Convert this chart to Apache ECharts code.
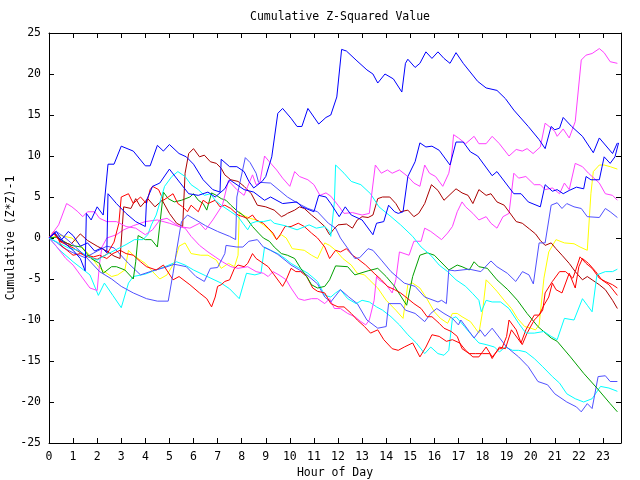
<!DOCTYPE html>
<html><head><meta charset="utf-8">
<script src="https://cdn.jsdelivr.net/npm/echarts/dist/echarts.min.js"></script>
<style>html,body{margin:0;padding:0;background:#fff}#c{width:640px;height:480px}</style>
</head><body><div id="c"></div>
<script>
const titleText = 'Cumulative Z-Squared Value';
const xName = 'Hour of Day';
const yName = 'Cumulative (Z*Z)-1';
const hourMin = 0, hourMax = 23.75, hourStep = 1;
const valMin = -25, valMax = 25, valStep = 5;

const blueA = [[0,0],[0.3,0.8],[0.6,-0.5],[1.0,-1.5],[1.3,-2.5],[1.5,-4.0],[1.55,3.0],[1.75,2.2],[2.0,3.8],[2.25,2.8],[2.45,9.0],[2.7,9.0],[3.0,11.2],[3.5,10.6],[4.0,8.8],[4.2,8.8],[4.5,11.3],[4.75,10.6],[5.0,11.4],[5.4,10.3],[5.7,9.9],[6.0,9.0],[6.4,7.1],[6.8,5.9],[7.1,5.6],[7.15,9.6],[7.5,8.7],[7.8,8.7],[8.1,8.1],[8.3,6.9],[8.5,6.1],[8.85,6.9],[9.0,7.5],[9.25,9.9],[9.5,15.2],[9.7,15.8],[10.05,14.6],[10.3,13.6],[10.5,13.6],[10.75,15.8],[11.2,13.9],[11.5,14.7],[11.7,15.0],[11.95,17.2],[12.15,23.0],[12.35,22.8],[12.75,21.7],[13.2,20.5],[13.45,20.0],[13.65,18.9],[13.95,20.0],[14.3,19.4],[14.65,17.8],[14.8,21.3],[14.9,21.8],[15.2,20.8],[15.4,21.3],[15.65,22.7],[15.9,21.9],[16.15,22.7],[16.4,21.9],[16.65,21.3],[16.9,22.6],[17.2,21.3],[17.8,19.1],[18.15,18.3],[18.6,18.0],[18.95,17.0],[19.3,15.6],[19.9,13.6],[20.35,12.0],[20.6,10.9],[20.85,13.6],[21.0,13.2],[21.2,13.4],[21.35,14.7],[21.7,13.6],[22.15,12.4],[22.6,10.4],[22.85,12.2],[23.4,10.3],[23.6,11.6]];
const blueB = [[0,0],[0.25,0.6],[0.5,-0.3],[0.8,0.8],[1.0,0.3],[1.3,-1.0],[1.6,-0.6],[1.9,-1.6],[2.2,-1.2],[2.4,-1.8],[2.45,5.4],[2.8,4.2],[3.2,3.0],[3.6,2.0],[4.0,1.4],[4.05,4.6],[4.3,6.3],[4.6,6.7],[5.0,8.4],[5.45,6.7],[5.8,5.4],[6.2,5.2],[6.6,5.6],[6.9,5.0],[7.3,6.0],[7.5,7.1],[8.1,5.9],[8.5,5.6],[8.95,4.6],[9.2,5.0],[9.7,4.2],[10.3,4.4],[10.5,3.8],[11.0,3.2],[11.2,5.2],[11.5,5.0],[11.7,4.2],[12.05,2.6],[12.3,3.8],[12.55,2.8],[13.0,2.2],[13.45,0.4],[13.6,1.8],[13.9,2.0],[14.1,4.0],[14.35,3.2],[14.5,3.0],[14.7,3.2],[14.9,7.5],[15.2,9.3],[15.4,11.6],[15.65,11.1],[15.9,11.2],[16.2,10.7],[16.65,8.9],[16.9,11.7],[17.2,11.7],[17.5,10.5],[17.8,10.0],[18.4,7.6],[18.6,8.1],[19.3,5.4],[19.6,5.4],[19.9,4.4],[20.4,3.8],[20.6,6.5],[20.9,5.7],[21.1,5.9],[21.35,5.4],[21.6,5.8],[21.9,6.2],[22.2,6.0],[22.3,7.5],[22.5,7.1],[22.85,7.1],[23.05,9.9],[23.3,9.1],[23.5,9.9],[23.65,11.6]];
const slateA = [[0,0],[0.3,0.8],[0.6,0.2],[1.0,-0.8],[1.5,-2.2],[2.1,-4.1],[2.6,-5.0],[3.0,-5.9],[3.5,-6.7],[4.05,-7.4],[4.5,-7.7],[4.95,-7.7],[5.15,-4.3],[5.3,-1.5],[5.5,2.0],[5.75,2.8],[6.1,2.2],[6.5,1.5],[7.0,0.8],[7.5,0.2],[7.75,-0.2],[7.8,5.0],[8.15,9.8],[8.35,9.2],[8.6,7.9],[8.7,6.8],[9.2,6.7],[9.9,5.0],[10.35,4.2],[10.75,3.6],[11.15,3.2],[11.6,1.8],[11.9,1.2],[12.1,0.0],[12.7,-2.5],[12.9,-2.4],[13.25,-1.3],[13.45,-1.5],[13.8,-2.7],[14.2,-4.1],[14.75,-5.5],[15.2,-5.9],[15.6,-7.2],[16.15,-7.8],[16.3,-7.6],[16.5,-8.0],[16.6,-3.9],[16.85,-4.0],[17.45,-3.8],[17.93,-4.1],[18.35,-2.8],[18.6,-3.5],[19.03,-4.3],[19.38,-5.3],[19.66,-4.1],[19.93,-4.5],[20.11,-5.6],[20.35,-0.6],[20.6,-0.6],[20.85,4.0],[21.1,4.3],[21.3,3.6],[21.5,4.2],[21.8,3.8],[22.1,3.6],[22.35,2.6],[22.85,2.5],[23.1,3.6],[23.3,3.2],[23.6,2.5]];
const slateB = [[0,0],[0.3,-0.5],[0.6,-1.2],[1.0,-1.8],[1.5,-2.4],[2.0,-1.6],[2.4,-1.0],[2.7,-1.2],[3.3,-3.1],[3.8,-4.5],[4.3,-4.0],[4.8,-3.6],[5.2,-3.2],[5.7,-3.5],[6.1,-4.7],[6.45,-5.3],[6.7,-3.7],[7.0,-3.6],[7.3,-1.9],[7.35,-0.9],[7.8,-1.1],[8.05,-1.1],[8.3,-0.4],[8.65,-0.2],[8.9,-1.1],[9.2,-1.5],[9.5,-2.0],[9.8,-2.7],[10.05,-3.3],[10.4,-3.9],[10.75,-4.6],[11.15,-5.6],[11.45,-7.2],[11.7,-7.8],[12.1,-6.3],[12.45,-7.2],[12.8,-8.0],[13.2,-10.0],[13.65,-11.0],[14.0,-10.8],[14.1,-8.0],[14.6,-8.0],[14.8,-8.8],[15.2,-9.2],[15.6,-10.2],[15.85,-9.2],[16.1,-8.6],[16.4,-9.2],[16.75,-9.8],[17.0,-10.6],[17.1,-10.0],[17.45,-11.4],[17.65,-12.2],[17.9,-11.2],[18.1,-12.0],[18.4,-11.0],[19.0,-13.3],[19.5,-14.5],[19.9,-15.7],[20.3,-17.5],[20.7,-17.9],[21.0,-19.0],[21.5,-20.0],[21.9,-20.6],[22.1,-21.2],[22.35,-20.2],[22.55,-20.8],[22.8,-16.9],[23.1,-16.8],[23.3,-17.5],[23.6,-17.5]];
const magentaA = [[0,0],[0.4,1.6],[0.73,4.2],[0.95,3.8],[1.2,3.2],[1.4,2.6],[1.6,3.2],[1.9,3.2],[2.1,2.4],[2.4,2.0],[2.8,2.0],[3.2,1.4],[3.6,1.2],[4.0,0.4],[4.3,1.0],[4.6,2.2],[4.9,2.4],[5.4,1.4],[5.85,1.2],[6.25,1.8],[6.5,1.0],[6.8,2.2],[7.2,4.0],[7.45,7.0],[7.8,5.9],[8.1,5.2],[8.25,6.3],[8.45,7.7],[8.6,6.5],[8.75,6.7],[8.95,10.0],[9.15,9.3],[9.45,8.3],[9.7,7.3],[10.0,6.3],[10.2,8.1],[10.4,7.5],[10.75,7.1],[11.0,6.5],[11.25,5.2],[11.5,5.5],[11.7,5.1],[12.0,4.0],[12.25,3.0],[12.6,3.1],[13.0,2.8],[13.3,3.0],[13.55,8.9],[13.8,7.9],[14.05,8.3],[14.25,7.9],[14.55,8.3],[14.9,7.5],[15.15,6.7],[15.4,6.3],[15.6,8.9],[15.8,7.9],[16.05,7.5],[16.35,6.3],[16.6,7.9],[16.7,9.5],[16.8,12.6],[17.0,12.2],[17.3,11.5],[17.65,12.4],[17.85,11.5],[18.15,11.5],[18.4,12.4],[18.7,11.5],[19.1,10.0],[19.4,10.8],[19.65,10.6],[19.85,10.9],[20.1,10.3],[20.4,11.1],[20.6,14.0],[20.85,13.4],[21.0,13.0],[21.1,12.4],[21.35,13.3],[21.6,12.2],[21.85,14.2],[22.1,21.7],[22.3,22.3],[22.55,22.5],[22.85,23.1],[23.05,22.6],[23.3,21.5],[23.6,21.3]];
const magentaB = [[0,0],[0.3,-1.0],[0.7,-2.5],[1.0,-3.3],[1.3,-4.5],[1.7,-6.1],[2.0,-6.4],[2.1,-3.1],[2.2,-1.1],[2.4,0.0],[2.8,0.4],[3.1,1.0],[3.5,1.5],[4.0,2.0],[4.5,2.2],[5.0,1.8],[5.4,1.4],[5.65,1.2],[5.9,0.2],[6.25,-0.9],[6.6,-1.7],[6.9,-2.3],[7.2,-2.9],[7.55,-3.5],[7.85,-3.7],[8.25,-3.5],[8.6,-4.1],[8.9,-4.3],[9.1,-4.7],[9.3,-4.1],[9.55,-4.5],[9.85,-5.1],[10.05,-6.1],[10.35,-7.4],[10.6,-7.6],[10.9,-7.4],[11.15,-7.4],[11.45,-8.0],[11.65,-7.4],[11.85,-8.6],[12.1,-8.6],[12.4,-9.2],[12.7,-9.6],[12.95,-10.2],[13.15,-10.6],[13.3,-10.0],[13.5,-7.6],[13.6,-4.7],[13.7,-5.1],[14.0,-5.7],[14.25,-6.7],[14.4,-5.1],[14.55,-1.7],[14.95,-2.1],[15.15,-0.4],[15.45,-0.4],[15.6,1.2],[15.85,0.8],[16.3,-0.2],[16.55,0.6],[16.75,1.4],[16.95,3.2],[17.15,4.4],[17.3,3.8],[17.6,3.0],[17.85,2.2],[18.15,2.6],[18.35,1.8],[18.6,1.2],[18.85,2.6],[19.1,3.0],[19.3,7.9],[19.5,7.3],[19.8,7.5],[20.15,6.5],[20.4,6.5],[20.6,5.9],[20.9,6.1],[21.2,5.4],[21.4,6.7],[21.6,5.9],[21.85,9.1],[22.15,8.7],[22.4,7.9],[22.85,6.7],[23.1,5.4],[23.4,5.2],[23.6,4.6]];
const cyanA = [[0,0],[0.45,-1.5],[1.0,-2.9],[1.7,-4.5],[2.05,-7.0],[2.3,-5.5],[2.65,-7.0],[3.0,-8.5],[3.3,-5.5],[3.5,-4.7],[4.0,-4.4],[4.45,-3.9],[4.9,-3.4],[5.3,-2.9],[5.65,-3.3],[6.0,-3.9],[6.5,-4.6],[7.15,-5.5],[7.5,-6.2],[7.9,-7.4],[8.2,-4.3],[8.55,-4.5],[8.8,-4.3],[8.95,-1.1],[9.2,-1.5],[9.5,-1.9],[9.8,-2.5],[10.05,-3.1],[10.4,-3.7],[10.75,-4.3],[11.15,-5.3],[11.45,-7.0],[11.7,-7.2],[11.9,-6.7],[12.1,-6.3],[12.4,-7.4],[12.75,-8.0],[13.0,-7.6],[13.3,-7.8],[13.6,-8.4],[13.85,-8.8],[14.2,-9.6],[14.55,-10.6],[14.9,-11.8],[15.25,-12.8],[15.6,-14.1],[15.85,-13.3],[16.15,-14.1],[16.4,-14.3],[16.6,-13.7],[16.75,-9.8],[16.9,-9.6],[17.25,-10.8],[17.6,-12.0],[17.85,-12.8],[18.15,-13.0],[18.5,-13.3],[18.7,-13.9],[18.95,-13.3],[19.25,-13.7],[19.5,-13.7],[19.8,-13.9],[20.15,-14.7],[20.5,-15.7],[20.9,-16.9],[21.2,-17.7],[21.5,-19.0],[21.85,-19.6],[22.2,-20.0],[22.55,-19.6],[22.9,-18.1],[23.25,-18.3],[23.6,-18.7]];
const cyanB = [[0,0],[0.4,-0.6],[0.8,-1.2],[1.2,-1.5],[1.6,-2.2],[2.0,-2.7],[2.4,-2.0],[2.8,-1.4],[3.2,-0.8],[3.55,-0.2],[3.9,-0.2],[4.1,0.4],[4.25,1.6],[4.45,2.8],[4.8,6.3],[5.1,7.5],[5.35,8.1],[5.65,7.5],[5.9,6.5],[6.2,5.9],[6.45,5.2],[6.7,5.4],[6.9,4.6],[7.15,4.0],[7.35,3.6],[7.55,3.2],[7.85,2.6],[8.05,1.8],[8.25,1.0],[8.4,1.8],[8.6,2.0],[8.9,2.0],[9.2,2.2],[9.35,1.8],[9.8,1.5],[10.3,1.0],[10.8,1.6],[11.1,1.2],[11.45,1.4],[11.65,0.8],[11.7,0.2],[11.85,4.4],[11.9,8.9],[12.25,7.9],[12.55,6.9],[12.95,6.5],[13.35,5.4],[13.7,3.8],[14.2,2.6],[14.6,1.6],[15.1,0.2],[15.45,-1.1],[15.85,-2.1],[16.2,-3.3],[16.55,-4.1],[16.9,-5.1],[17.3,-5.9],[17.6,-6.8],[17.85,-7.6],[17.95,-9.0],[18.15,-7.6],[18.4,-7.8],[18.75,-7.8],[19.1,-8.6],[19.5,-10.4],[19.8,-11.6],[20.15,-11.6],[20.55,-11.4],[20.85,-12.0],[21.1,-12.4],[21.4,-9.8],[21.8,-10.0],[22.15,-7.4],[22.35,-8.2],[22.55,-9.0],[22.75,-4.5],[23.1,-4.1],[23.4,-4.1],[23.6,-3.8]];
const yellowA = [[0,0],[0.5,0.3],[0.95,0.0],[1.2,-0.6],[1.5,-1.5],[1.75,-2.3],[2.05,-3.5],[2.3,-4.1],[2.6,-4.7],[2.85,-4.5],[3.15,-3.9],[3.3,-1.5],[3.5,-2.1],[3.7,-2.5],[4.0,-3.1],[4.3,-4.1],[4.6,-5.0],[4.9,-4.5],[5.2,-3.0],[5.4,-1.0],[5.65,-0.6],[5.9,-1.9],[6.3,-2.1],[6.6,-2.1],[6.95,-2.7],[7.15,-3.7],[7.45,-3.1],[7.7,-3.5],[7.85,-2.1],[7.9,3.2],[8.05,2.8],[8.35,2.4],[8.6,2.2],[8.9,1.6],[9.15,1.0],[9.45,-0.2],[9.65,0.4],[9.85,0.0],[10.1,-1.3],[10.6,-1.5],[10.9,-2.1],[11.15,-2.5],[11.45,-0.6],[11.65,-0.9],[11.9,-1.5],[12.2,-2.5],[12.55,-3.3],[12.8,-4.3],[13.1,-4.5],[13.3,-5.1],[13.65,-6.1],[14.0,-7.6],[14.4,-8.8],[14.7,-9.8],[14.9,-5.7],[15.1,-5.5],[15.4,-6.1],[15.65,-7.2],[16.0,-9.0],[16.25,-9.8],[16.55,-10.4],[16.75,-9.2],[16.95,-9.2],[17.15,-9.6],[17.5,-10.2],[17.85,-11.6],[18.0,-9.0],[18.15,-5.1],[18.35,-5.7],[18.6,-6.5],[18.9,-7.6],[19.2,-8.6],[19.45,-9.8],[19.75,-10.8],[20.0,-11.0],[20.2,-11.2],[20.35,-10.6],[20.55,-4.9],[20.75,-1.7],[21.05,-0.2],[21.4,-0.6],[21.8,-0.7],[22.05,-1.1],[22.35,-1.5],[22.5,5.4],[22.6,8.1],[22.85,8.9],[23.05,8.9],[23.3,8.7],[23.6,8.4]];
const greenA = [[0,0],[0.3,0.1],[0.5,-0.2],[0.9,-0.9],[1.35,-1.1],[1.75,-2.5],[2.1,-3.1],[2.25,-4.3],[2.6,-3.5],[2.8,-3.5],[3.15,-3.9],[3.5,-5.0],[3.6,-2.9],[3.7,0.3],[4.0,-0.2],[4.25,-0.2],[4.5,-1.1],[4.75,5.6],[4.95,4.8],[5.2,4.4],[5.5,4.6],[5.85,5.0],[6.0,5.4],[6.2,4.6],[6.4,4.2],[6.55,3.4],[6.75,5.5],[6.95,5.2],[7.15,4.8],[7.35,4.6],[7.55,4.0],[7.85,3.2],[8.05,2.8],[8.25,2.2],[8.45,1.4],[8.7,0.6],[8.9,0.0],[9.15,-0.4],[9.35,-1.1],[9.65,-1.9],[9.9,-2.1],[10.2,-2.5],[10.45,-3.7],[10.7,-4.7],[10.9,-5.7],[11.15,-6.1],[11.45,-5.9],[11.65,-5.1],[11.9,-3.4],[12.4,-3.5],[12.7,-4.5],[13.25,-4.0],[13.65,-3.7],[14.0,-4.7],[14.35,-5.9],[14.85,-8.2],[15.1,-4.7],[15.4,-2.1],[15.7,-1.8],[16.0,-2.1],[16.4,-3.3],[16.6,-3.9],[16.95,-3.3],[17.15,-3.5],[17.45,-3.9],[17.65,-2.9],[17.85,-3.5],[18.2,-3.7],[18.6,-5.1],[19.05,-6.3],[19.45,-7.6],[19.85,-9.2],[20.3,-10.8],[20.85,-12.2],[21.1,-12.6],[21.65,-14.5],[22.2,-16.5],[22.75,-18.3],[23.3,-20.2],[23.6,-21.2]];
const redA = [[0,0],[0.2,0.5],[0.5,-0.5],[1.0,-1.2],[1.5,-2.2],[2.0,-2.6],[2.4,-2.0],[2.7,-0.5],[2.9,1.8],[3.0,5.0],[3.3,5.4],[3.5,4.2],[3.65,4.6],[3.8,5.0],[4.05,4.2],[4.2,5.9],[4.3,6.3],[4.55,5.9],[4.75,4.6],[4.95,5.0],[5.15,5.4],[5.35,4.2],[5.55,3.8],[5.75,3.2],[5.9,4.0],[6.2,3.2],[6.4,4.6],[6.6,4.2],[6.9,4.6],[7.1,3.8],[7.3,4.0],[7.55,3.6],[7.85,2.8],[8.05,2.6],[8.25,2.4],[8.45,2.8],[8.6,2.2],[8.9,1.8],[9.1,1.2],[9.3,0.6],[9.45,-0.2],[9.6,0.4],[9.8,1.4],[10.05,1.4],[10.35,1.8],[10.6,1.4],[10.9,0.6],[11.15,0.0],[11.45,-1.1],[11.65,-2.5],[11.9,-1.5],[12.1,-1.7],[12.35,-1.3],[12.6,-2.1],[12.8,-2.5],[13.15,-3.3],[13.5,-4.3],[13.8,-5.1],[14.05,-5.9],[14.35,-6.3],[14.6,-6.7],[14.9,-7.4],[15.15,-8.0],[15.45,-8.6],[15.7,-9.6],[15.9,-9.6],[16.2,-10.4],[16.4,-11.0],[16.7,-11.4],[16.95,-12.0],[17.15,-13.5],[17.45,-14.1],[17.7,-14.1],[18.0,-14.1],[18.3,-14.1],[18.4,-14.7],[18.7,-13.3],[18.95,-13.5],[19.2,-11.2],[19.45,-12.2],[19.65,-13.0],[19.85,-11.6],[20.15,-10.0],[20.35,-9.4],[20.55,-8.2],[20.75,-7.2],[20.9,-5.5],[21.05,-6.3],[21.3,-6.7],[21.6,-4.3],[21.85,-6.1],[22.0,-3.5],[22.15,-2.5],[22.4,-3.1],[22.7,-4.1],[22.95,-5.1],[23.25,-5.7],[23.6,-7.0]];
const redB = [[0,0],[0.2,0.8],[0.4,-0.2],[0.5,-0.9],[0.75,-1.5],[1.0,-2.1],[1.3,-1.9],[1.55,-2.1],[1.85,-2.3],[2.1,-2.1],[2.4,-2.5],[2.65,-1.9],[2.95,-1.5],[3.2,-1.9],[3.5,-2.1],[3.8,-2.9],[4.05,-3.5],[4.45,-3.9],[4.75,-3.3],[5.15,-5.1],[5.4,-4.7],[5.85,-5.7],[6.25,-6.7],[6.55,-7.4],[6.75,-8.4],[6.9,-7.2],[7.0,-5.9],[7.15,-5.7],[7.3,-5.3],[7.5,-5.1],[7.7,-3.7],[7.85,-3.3],[8.1,-3.5],[8.25,-3.1],[8.45,-1.9],[8.6,-2.5],[8.8,-2.9],[9.1,-3.5],[9.35,-4.5],[9.7,-5.9],[9.85,-5.1],[10.05,-3.7],[10.25,-4.1],[10.45,-4.1],[10.7,-4.7],[10.95,-6.1],[11.15,-6.5],[11.45,-6.7],[11.7,-8.0],[12.0,-8.4],[12.25,-8.4],[12.55,-9.2],[12.8,-10.0],[13.1,-10.8],[13.35,-11.6],[13.65,-11.2],[13.9,-12.4],[14.25,-13.5],[14.5,-13.7],[14.75,-13.3],[15.1,-12.8],[15.4,-14.5],[15.65,-13.3],[15.9,-11.8],[16.2,-12.0],[16.5,-12.6],[16.75,-12.4],[17.05,-12.8],[17.3,-13.7],[17.6,-14.5],[17.85,-14.5],[18.15,-13.3],[18.4,-14.5],[18.7,-13.5],[18.8,-13.5],[19.0,-12.0],[19.1,-10.0],[19.4,-11.2],[19.6,-12.8],[19.8,-11.2],[19.95,-10.4],[20.15,-9.4],[20.35,-9.4],[20.5,-8.8],[20.6,-6.7],[20.9,-5.3],[21.2,-4.1],[21.45,-4.1],[21.75,-4.9],[21.85,-4.1],[22.05,-2.3],[22.3,-3.1],[22.55,-3.7],[22.85,-4.9],[23.1,-5.3],[23.4,-5.7],[23.6,-6.1]];
const maroonA = [[0,0],[0.2,0.6],[0.5,-0.4],[0.9,-0.8],[1.3,0.5],[1.6,-0.3],[2.0,-1.0],[2.4,-1.6],[2.7,-2.2],[2.95,-2.5],[3.1,3.8],[3.4,3.6],[3.6,4.8],[3.8,3.8],[4.1,4.8],[4.4,3.8],[4.7,4.6],[5.0,3.0],[5.3,1.8],[5.55,1.4],[5.65,7.9],[5.8,10.3],[6.0,10.9],[6.25,9.9],[6.45,10.1],[6.7,9.3],[6.95,9.1],[7.15,8.5],[7.3,7.7],[7.55,7.1],[7.85,6.9],[8.1,6.3],[8.4,5.4],[8.65,4.0],[9.0,3.8],[9.35,3.4],[9.65,2.6],[9.8,2.8],[9.9,3.0],[10.2,3.4],[10.4,3.8],[10.6,3.6],[10.9,2.8],[11.15,2.2],[11.45,1.4],[11.65,0.4],[11.8,1.0],[12.0,1.6],[12.35,1.7],[12.6,1.2],[12.8,2.2],[13.0,2.6],[13.25,2.5],[13.45,2.8],[13.65,4.8],[13.85,5.0],[14.15,5.0],[14.4,4.2],[14.6,3.2],[14.9,3.4],[15.15,2.6],[15.35,3.0],[15.6,4.2],[15.88,6.5],[16.15,5.8],[16.4,4.6],[16.65,5.3],[16.9,6.0],[17.15,5.5],[17.4,5.2],[17.6,4.2],[17.85,5.9],[18.15,5.2],[18.35,5.4],[18.6,4.4],[18.9,4.0],[19.1,3.2],[19.4,2.0],[19.65,1.8],[19.95,1.1],[20.2,0.5],[20.4,-0.3],[20.6,-0.9],[20.85,-0.6],[21.05,-1.3],[21.3,-2.1],[21.6,-3.1],[21.85,-4.1],[22.15,-5.1],[22.35,-4.7],[22.55,-5.1],[22.85,-5.7],[23.1,-6.3],[23.4,-7.6],[23.6,-8.6]];

const seriesList = [
  ['#00ffff', cyanA], ['#ffff00', yellowA], ['#ff40ff', magentaB], ['#5050ff', slateB],
  ['#ff0000', redB], ['#00a000', greenA], ['#aa0000', maroonA], ['#ff0000', redA],
  ['#00ffff', cyanB], ['#5050ff', slateA], ['#ff40ff', magentaA], ['#0000ff', blueB], ['#0000ff', blueA]
];

const font = 'DejaVu Sans Mono';
const chart = echarts.init(document.getElementById('c'), null, {renderer: 'canvas'});
const axisCommon = {
  axisLine: {show: true, onZero: false, lineStyle: {color: '#000', width: 1}},
  axisTick: {show: true, inside: true, length: 5, lineStyle: {color: '#000', width: 1}},
  splitLine: {show: false}
};
chart.setOption({
  animation: false,
  backgroundColor: '#fff',
  title: {text: titleText, left: 335, top: 6, textAlign: 'center',
    textStyle: {fontFamily: font, fontSize: 11.5, fontWeight: 'normal', color: '#000'}},
  grid: {left: 49, top: 33, width: 572, height: 410, containLabel: false, outerBoundsMode: 'none'},
  xAxis: [
    Object.assign({type: 'value', position: 'bottom', min: hourMin, max: hourMax, interval: hourStep,
      name: xName, nameLocation: 'middle', nameGap: 24, nameMoveOverlap: false,
      nameTextStyle: {fontFamily: font, fontSize: 11.5, color: '#000'},
      axisLabel: {color: '#000', fontFamily: font, fontSize: 11.5, margin: 8, showMaxLabel: false,
        formatter: v => Number.isInteger(v) ? String(v) : ''}}, axisCommon),
    Object.assign({type: 'value', position: 'top', min: hourMin, max: hourMax, interval: hourStep,
      axisLabel: {show: false}}, axisCommon)
  ],
  yAxis: [
    Object.assign({type: 'value', position: 'left', min: valMin, max: valMax, interval: valStep,
      name: yName, nameLocation: 'middle', nameGap: 32, nameRotate: 90, nameMoveOverlap: false,
      nameTextStyle: {fontFamily: font, fontSize: 11.5, color: '#000'},
      axisLabel: {color: '#000', fontFamily: font, fontSize: 11.5, margin: 8}}, axisCommon),
    Object.assign({type: 'value', position: 'right', min: valMin, max: valMax, interval: valStep,
      axisLabel: {show: false}}, axisCommon)
  ],
  series: seriesList.map(([color, data]) => ({
    type: 'line', data: data, xAxisIndex: 0, yAxisIndex: 0,
    symbol: 'none', showSymbol: false, silent: true, clip: true,
    lineStyle: {color: color, width: 1}, itemStyle: {color: color}
  }))
});
</script>
</body></html>
